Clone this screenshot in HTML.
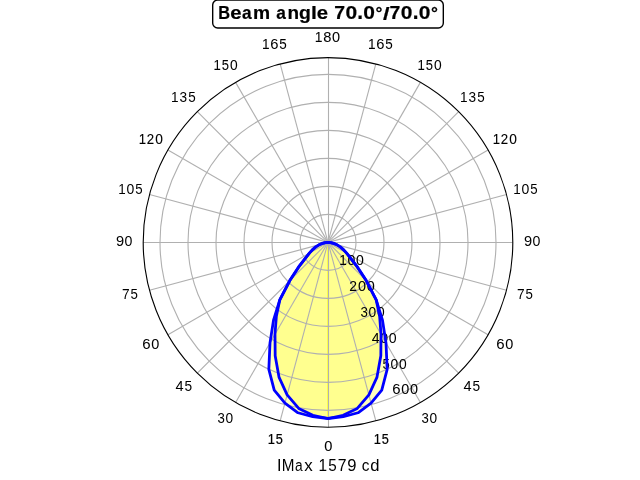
<!DOCTYPE html>
<html><head><meta charset="utf-8"><style>
html,body{margin:0;padding:0;background:#fff;width:640px;height:480px;overflow:hidden}
svg{display:block;will-change:transform}
text{font-family:"Liberation Sans",sans-serif}
</style></head><body>
<svg width="640" height="480" viewBox="0 0 640 480">
<rect x="0" y="0" width="640" height="480" fill="#fff"/>
<path d="M328.000 418.500 L343.252 416.734 L358.041 412.772 L371.042 403.033 L381.766 390.120 L387.167 369.283 L386.000 342.859 L382.490 320.219 L376.209 299.853 L366.184 280.584 L357.493 267.147 L350.527 258.173 L346.620 253.150 L343.407 249.585 L340.216 246.846 L336.983 244.807 L333.515 243.372 L330.590 242.627 L328.000 242.400 L328.000 242.400 L328.000 418.500 Z" fill="#ff0" fill-opacity="0.25" stroke="#ff0" stroke-opacity="0.25" stroke-width="1.389" stroke-linejoin="round"/>
<path d="M328.000 418.500 L312.748 416.734 L297.959 412.772 L284.958 403.033 L274.234 390.120 L268.833 369.283 L270.000 342.859 L273.510 320.219 L279.791 299.853 L289.816 280.584 L298.507 267.147 L305.473 258.173 L309.380 253.150 L312.593 249.585 L315.784 246.846 L319.017 244.807 L322.485 243.372 L325.410 242.627 L328.000 242.400 L328.000 242.400 L328.000 418.500 Z" fill="#ff0" fill-opacity="0.25" stroke="#ff0" stroke-opacity="0.25" stroke-width="1.389" stroke-linejoin="round"/>
<path d="M328.000 418.500 L343.122 415.240 L357.277 408.439 L368.868 394.920 L377.011 377.058 L380.827 355.688 L381.000 334.199 L379.622 316.124 L376.209 299.853 L366.184 280.584 L357.493 267.147 L350.527 258.173 L346.620 253.150 L343.407 249.585 L340.216 246.846 L336.983 244.807 L333.515 243.372 L330.590 242.627 L328.000 242.400 L328.000 242.400 L328.000 418.500 Z" fill="#ff0" fill-opacity="0.25" stroke="#ff0" stroke-opacity="0.25" stroke-width="1.389" stroke-linejoin="round"/>
<path d="M328.000 418.500 L312.878 415.240 L298.723 408.439 L287.132 394.920 L278.989 377.058 L275.173 355.688 L275.000 334.199 L276.378 316.124 L279.791 299.853 L289.816 280.584 L298.507 267.147 L305.473 258.173 L309.380 253.150 L312.593 249.585 L315.784 246.846 L319.017 244.807 L322.485 243.372 L325.410 242.627 L328.000 242.400 L328.000 242.400 L328.000 418.500 Z" fill="#ff0" fill-opacity="0.25" stroke="#ff0" stroke-opacity="0.25" stroke-width="1.389" stroke-linejoin="round"/>
<circle cx="328.000" cy="242.400" r="28.000" fill="none" stroke="#b0b0b0" stroke-width="1.111"/>
<circle cx="328.000" cy="242.400" r="56.000" fill="none" stroke="#b0b0b0" stroke-width="1.111"/>
<circle cx="328.000" cy="242.400" r="84.000" fill="none" stroke="#b0b0b0" stroke-width="1.111"/>
<circle cx="328.000" cy="242.400" r="112.000" fill="none" stroke="#b0b0b0" stroke-width="1.111"/>
<circle cx="328.000" cy="242.400" r="140.000" fill="none" stroke="#b0b0b0" stroke-width="1.111"/>
<circle cx="328.000" cy="242.400" r="168.000" fill="none" stroke="#b0b0b0" stroke-width="1.111"/>
<line x1="328.500" y1="242.400" x2="328.500" y2="427.200" stroke="#b0b0b0" stroke-width="1.111" stroke-linecap="butt"/>
<line x1="328.000" y1="242.400" x2="375.830" y2="420.903" stroke="#b0b0b0" stroke-width="1.111" stroke-linecap="butt"/>
<line x1="328.000" y1="242.400" x2="420.400" y2="402.441" stroke="#b0b0b0" stroke-width="1.111" stroke-linecap="butt"/>
<line x1="328.000" y1="242.400" x2="458.673" y2="373.073" stroke="#b0b0b0" stroke-width="1.111" stroke-linecap="butt"/>
<line x1="328.000" y1="242.400" x2="488.041" y2="334.800" stroke="#b0b0b0" stroke-width="1.111" stroke-linecap="butt"/>
<line x1="328.000" y1="242.400" x2="506.503" y2="290.230" stroke="#b0b0b0" stroke-width="1.111" stroke-linecap="butt"/>
<line x1="328.000" y1="242.500" x2="512.800" y2="242.500" stroke="#b0b0b0" stroke-width="1.111" stroke-linecap="butt"/>
<line x1="328.000" y1="242.400" x2="506.503" y2="194.570" stroke="#b0b0b0" stroke-width="1.111" stroke-linecap="butt"/>
<line x1="328.000" y1="242.400" x2="488.041" y2="150.000" stroke="#b0b0b0" stroke-width="1.111" stroke-linecap="butt"/>
<line x1="328.000" y1="242.400" x2="458.673" y2="111.727" stroke="#b0b0b0" stroke-width="1.111" stroke-linecap="butt"/>
<line x1="328.000" y1="242.400" x2="420.400" y2="82.359" stroke="#b0b0b0" stroke-width="1.111" stroke-linecap="butt"/>
<line x1="328.000" y1="242.400" x2="375.830" y2="63.897" stroke="#b0b0b0" stroke-width="1.111" stroke-linecap="butt"/>
<line x1="328.500" y1="242.400" x2="328.500" y2="57.600" stroke="#b0b0b0" stroke-width="1.111" stroke-linecap="butt"/>
<line x1="328.000" y1="242.400" x2="280.170" y2="63.897" stroke="#b0b0b0" stroke-width="1.111" stroke-linecap="butt"/>
<line x1="328.000" y1="242.400" x2="235.600" y2="82.359" stroke="#b0b0b0" stroke-width="1.111" stroke-linecap="butt"/>
<line x1="328.000" y1="242.400" x2="197.327" y2="111.727" stroke="#b0b0b0" stroke-width="1.111" stroke-linecap="butt"/>
<line x1="328.000" y1="242.400" x2="167.959" y2="150.000" stroke="#b0b0b0" stroke-width="1.111" stroke-linecap="butt"/>
<line x1="328.000" y1="242.400" x2="149.497" y2="194.570" stroke="#b0b0b0" stroke-width="1.111" stroke-linecap="butt"/>
<line x1="328.000" y1="242.500" x2="143.200" y2="242.500" stroke="#b0b0b0" stroke-width="1.111" stroke-linecap="butt"/>
<line x1="328.000" y1="242.400" x2="149.497" y2="290.230" stroke="#b0b0b0" stroke-width="1.111" stroke-linecap="butt"/>
<line x1="328.000" y1="242.400" x2="167.959" y2="334.800" stroke="#b0b0b0" stroke-width="1.111" stroke-linecap="butt"/>
<line x1="328.000" y1="242.400" x2="197.327" y2="373.073" stroke="#b0b0b0" stroke-width="1.111" stroke-linecap="butt"/>
<line x1="328.000" y1="242.400" x2="235.600" y2="402.441" stroke="#b0b0b0" stroke-width="1.111" stroke-linecap="butt"/>
<line x1="328.000" y1="242.400" x2="280.170" y2="420.903" stroke="#b0b0b0" stroke-width="1.111" stroke-linecap="butt"/>
<g font-weight="normal" fill="#000" stroke="#000" stroke-width="0.075"><text transform="matrix(1.0543 0 0 1.0896 324.178 451.053)" font-size="13.889">0</text></g>
<g font-weight="normal" fill="#000" stroke="#000" stroke-width="0.225"><text transform="matrix(0.9255 0 0 1.0596 373.657 444.000)" font-size="13.889">1</text><text transform="matrix(0.9145 0 0 1.0651 381.833 444.052)" font-size="13.889">5</text></g>
<g font-weight="normal" fill="#000"><text transform="matrix(0.9483 0 0 1.1055 421.398 423.054)" font-size="13.889">3</text><text transform="matrix(0.9874 0 0 1.1055 429.508 423.054)" font-size="13.889">0</text></g>
<g font-weight="normal" fill="#000"><text transform="matrix(1.0475 0 0 1.0651 463.576 391.000)" font-size="13.889">4</text><text transform="matrix(0.9885 0 0 1.0706 472.531 391.052)" font-size="13.889">5</text></g>
<g font-weight="normal" fill="#000" stroke="#000" stroke-width="0.039"><text transform="matrix(1.0787 0 0 1.0627 496.308 349.052)" font-size="13.889">6</text><text transform="matrix(1.0423 0 0 1.0627 505.186 349.052)" font-size="13.889">0</text></g>
<g font-weight="normal" fill="#000"><text transform="matrix(0.9894 0 0 1.0490 516.945 299.000)" font-size="13.889">7</text><text transform="matrix(0.9546 0 0 1.0544 525.533 299.052)" font-size="13.889">5</text></g>
<g font-weight="normal" fill="#000"><text transform="matrix(1.0542 0 0 1.1003 523.878 246.053)" font-size="13.889">9</text><text transform="matrix(1.0207 0 0 1.1003 532.606 246.053)" font-size="13.889">0</text></g>
<g font-weight="normal" fill="#000"><text transform="matrix(0.9644 0 0 1.0596 513.225 194.000)" font-size="13.889">1</text><text transform="matrix(1.0098 0 0 1.0683 521.577 194.052)" font-size="13.889">0</text><text transform="matrix(0.9530 0 0 1.0651 530.209 194.052)" font-size="13.889">5</text></g>
<g font-weight="normal" fill="#000" stroke="#000" stroke-width="0.114"><text transform="matrix(0.9440 0 0 1.0329 492.721 144.000)" font-size="13.889">1</text><text transform="matrix(0.9527 0 0 1.0362 500.863 144.000)" font-size="13.889">2</text><text transform="matrix(0.9884 0 0 1.0414 509.182 144.050)" font-size="13.889">0</text></g>
<g font-weight="normal" fill="#000"><text transform="matrix(0.9789 0 0 1.0757 459.909 102.000)" font-size="13.889">1</text><text transform="matrix(0.9843 0 0 1.0845 468.561 102.053)" font-size="13.889">3</text><text transform="matrix(0.9672 0 0 1.0813 477.148 102.053)" font-size="13.889">5</text></g>
<g font-weight="normal" fill="#000" stroke="#000" stroke-width="0.039"><text transform="matrix(0.9488 0 0 1.0702 417.409 70.000)" font-size="13.889">1</text><text transform="matrix(0.9375 0 0 1.0757 425.790 70.053)" font-size="13.889">5</text><text transform="matrix(0.9934 0 0 1.0790 433.953 70.052)" font-size="13.889">0</text></g>
<g font-weight="normal" fill="#000" stroke="#000" stroke-width="0.036"><text transform="matrix(0.9808 0 0 1.0388 367.885 49.000)" font-size="13.889">1</text><text transform="matrix(1.0628 0 0 1.0473 376.239 49.051)" font-size="13.889">6</text><text transform="matrix(0.9691 0 0 1.0442 385.157 49.051)" font-size="13.889">5</text></g>
<g font-weight="normal" fill="#000" stroke="#000" stroke-width="0.039"><text transform="matrix(0.9994 0 0 1.1071 314.630 42.000)" font-size="13.889">1</text><text transform="matrix(1.0577 0 0 1.1161 323.242 42.054)" font-size="13.889">8</text><text transform="matrix(1.0464 0 0 1.1161 332.057 42.054)" font-size="13.889">0</text></g>
<g font-weight="normal" fill="#000" stroke="#000" stroke-width="0.036"><text transform="matrix(0.9808 0 0 1.0388 261.885 49.000)" font-size="13.889">1</text><text transform="matrix(1.0628 0 0 1.0473 270.239 49.051)" font-size="13.889">6</text><text transform="matrix(0.9691 0 0 1.0442 279.157 49.051)" font-size="13.889">5</text></g>
<g font-weight="normal" fill="#000" stroke="#000" stroke-width="0.039"><text transform="matrix(0.9488 0 0 1.0702 213.409 70.000)" font-size="13.889">1</text><text transform="matrix(0.9375 0 0 1.0757 221.790 70.053)" font-size="13.889">5</text><text transform="matrix(0.9934 0 0 1.0790 229.953 70.052)" font-size="13.889">0</text></g>
<g font-weight="normal" fill="#000"><text transform="matrix(0.9789 0 0 1.0757 170.909 102.000)" font-size="13.889">1</text><text transform="matrix(0.9843 0 0 1.0845 179.561 102.053)" font-size="13.889">3</text><text transform="matrix(0.9672 0 0 1.0813 188.148 102.053)" font-size="13.889">5</text></g>
<g font-weight="normal" fill="#000" stroke="#000" stroke-width="0.114"><text transform="matrix(0.9440 0 0 1.0329 138.721 144.000)" font-size="13.889">1</text><text transform="matrix(0.9527 0 0 1.0362 146.863 144.000)" font-size="13.889">2</text><text transform="matrix(0.9884 0 0 1.0414 155.182 144.050)" font-size="13.889">0</text></g>
<g font-weight="normal" fill="#000"><text transform="matrix(0.9644 0 0 1.0596 118.225 194.000)" font-size="13.889">1</text><text transform="matrix(1.0098 0 0 1.0683 126.577 194.052)" font-size="13.889">0</text><text transform="matrix(0.9530 0 0 1.0651 135.209 194.052)" font-size="13.889">5</text></g>
<g font-weight="normal" fill="#000"><text transform="matrix(1.0542 0 0 1.1003 115.878 246.053)" font-size="13.889">9</text><text transform="matrix(1.0207 0 0 1.1003 124.606 246.053)" font-size="13.889">0</text></g>
<g font-weight="normal" fill="#000"><text transform="matrix(0.9894 0 0 1.0490 121.945 299.000)" font-size="13.889">7</text><text transform="matrix(0.9546 0 0 1.0544 130.533 299.052)" font-size="13.889">5</text></g>
<g font-weight="normal" fill="#000" stroke="#000" stroke-width="0.039"><text transform="matrix(1.0787 0 0 1.0627 142.308 349.052)" font-size="13.889">6</text><text transform="matrix(1.0423 0 0 1.0627 151.186 349.052)" font-size="13.889">0</text></g>
<g font-weight="normal" fill="#000"><text transform="matrix(1.0475 0 0 1.0651 175.576 391.000)" font-size="13.889">4</text><text transform="matrix(0.9885 0 0 1.0706 184.531 391.052)" font-size="13.889">5</text></g>
<g font-weight="normal" fill="#000"><text transform="matrix(0.9483 0 0 1.1055 217.398 423.054)" font-size="13.889">3</text><text transform="matrix(0.9874 0 0 1.1055 225.508 423.054)" font-size="13.889">0</text></g>
<g font-weight="normal" fill="#000" stroke="#000" stroke-width="0.225"><text transform="matrix(0.9255 0 0 1.0596 267.657 444.000)" font-size="13.889">1</text><text transform="matrix(0.9145 0 0 1.0651 275.833 444.052)" font-size="13.889">5</text></g>
<g font-weight="normal" fill="#000" stroke="#000" stroke-width="0.039"><text transform="matrix(0.9693 0 0 1.0600 339.142 265.000)" font-size="13.889">1</text><text transform="matrix(1.0148 0 0 1.0687 347.537 265.052)" font-size="13.889">0</text><text transform="matrix(1.0148 0 0 1.0687 356.044 265.052)" font-size="13.889">0</text></g>
<g font-weight="normal" fill="#000" stroke="#000" stroke-width="0.039"><text transform="matrix(1.0028 0 0 1.0893 349.175 291.000)" font-size="13.889">2</text><text transform="matrix(1.0404 0 0 1.0948 357.932 291.053)" font-size="13.889">0</text><text transform="matrix(1.0404 0 0 1.0948 366.653 291.053)" font-size="13.889">0</text></g>
<g font-weight="normal" fill="#000"><text transform="matrix(0.9556 0 0 1.0520 360.417 317.051)" font-size="13.889">3</text><text transform="matrix(0.9951 0 0 1.0520 368.590 317.051)" font-size="13.889">0</text><text transform="matrix(0.9951 0 0 1.0520 376.931 317.051)" font-size="13.889">0</text></g>
<g font-weight="normal" fill="#000"><text transform="matrix(1.0158 0 0 1.1071 371.676 343.000)" font-size="13.889">4</text><text transform="matrix(1.0157 0 0 1.1161 380.192 343.054)" font-size="13.889">0</text><text transform="matrix(1.0157 0 0 1.1161 388.706 343.054)" font-size="13.889">0</text></g>
<g font-weight="normal" fill="#000"><text transform="matrix(0.9400 0 0 1.1021 382.395 369.054)" font-size="13.889">5</text><text transform="matrix(0.9960 0 0 1.1055 390.579 369.054)" font-size="13.889">0</text><text transform="matrix(0.9960 0 0 1.1055 398.929 369.054)" font-size="13.889">0</text></g>
<g font-weight="normal" fill="#000" stroke="#000" stroke-width="0.039"><text transform="matrix(1.0747 0 0 1.0896 392.367 394.053)" font-size="13.889">6</text><text transform="matrix(1.0384 0 0 1.0896 401.213 394.053)" font-size="13.889">0</text><text transform="matrix(1.0384 0 0 1.0896 409.917 394.053)" font-size="13.889">0</text></g>
<circle cx="328.000" cy="242.400" r="184.800" fill="none" stroke="#000" stroke-width="1.111"/>
<path d="M328.000 242.400 L325.410 242.627 L322.485 243.372 L319.017 244.807 L315.784 246.846 L312.593 249.585 L309.380 253.150 L305.473 258.173 L298.507 267.147 L289.816 280.584 L279.791 299.853 L273.510 320.219 L270.000 342.859 L268.833 369.283 L274.234 390.120 L284.958 403.033 L297.959 412.772 L312.748 416.734 L328.000 418.500 L343.252 416.734 L358.041 412.772 L371.042 403.033 L381.766 390.120 L387.167 369.283 L386.000 342.859 L382.490 320.219 L376.209 299.853 L366.184 280.584 L357.493 267.147 L350.527 258.173 L346.620 253.150 L343.407 249.585 L340.216 246.846 L336.983 244.807 L333.515 243.372 L330.590 242.627 L328.000 242.400" fill="none" stroke="#00f" stroke-width="2.778" stroke-linejoin="round" stroke-linecap="square"/>
<path d="M328.000 242.400 L325.410 242.627 L322.485 243.372 L319.017 244.807 L315.784 246.846 L312.593 249.585 L309.380 253.150 L305.473 258.173 L298.507 267.147 L289.816 280.584 L279.791 299.853 L276.378 316.124 L275.000 334.199 L275.173 355.688 L278.989 377.058 L287.132 394.920 L298.723 408.439 L312.878 415.240 L328.000 418.500 L343.122 415.240 L357.277 408.439 L368.868 394.920 L377.011 377.058 L380.827 355.688 L381.000 334.199 L379.622 316.124 L376.209 299.853 L366.184 280.584 L357.493 267.147 L350.527 258.173 L346.620 253.150 L343.407 249.585 L340.216 246.846 L336.983 244.807 L333.515 243.372 L330.590 242.627 L328.000 242.400" fill="none" stroke="#00f" stroke-width="2.778" stroke-linejoin="round" stroke-linecap="square"/>
<rect x="212.688" y="0.017" width="230.625" height="28.000" rx="5" ry="5" fill="#fff" stroke="#000" stroke-width="1.389"/>
<g font-weight="bold" fill="#000" stroke="#000" stroke-width="0.186"><text transform="matrix(0.9827 0 0 1.1020 218.154 19.000)" font-size="16.667">B</text><text transform="matrix(1.2138 0 0 1.0901 230.334 19.068)" font-size="16.667">e</text><text transform="matrix(1.0362 0 0 1.0901 241.907 19.068)" font-size="16.667">a</text><text transform="matrix(1.1543 0 0 1.0815 253.043 19.000)" font-size="16.667">m</text><text transform="matrix(1.0362 0 0 1.0901 276.278 19.068)" font-size="16.667">a</text><text transform="matrix(1.1370 0 0 1.0815 287.449 19.000)" font-size="16.667">n</text><text transform="matrix(1.1654 0 0 1.0738 299.101 18.948)" font-size="16.667">g</text><text transform="matrix(1.2723 0 0 1.0905 310.982 19.000)" font-size="16.667">l</text><text transform="matrix(1.2138 0 0 1.0901 316.695 19.068)" font-size="16.667">e</text><text transform="matrix(1.1691 0 0 1.1020 334.130 19.000)" font-size="16.667">7</text><text transform="matrix(1.2601 0 0 1.1110 345.401 19.065)" font-size="16.667">0</text><text transform="matrix(1.2440 0 0 1.3196 357.308 19.000)" font-size="16.667">.</text><text transform="matrix(1.2601 0 0 1.1110 363.306 19.065)" font-size="16.667">0</text><text transform="matrix(1.0376 0 0 1.0994 375.608 18.767)" font-size="16.667">°</text><text transform="matrix(1.4121 0 0 1.1478 383.014 20.225)" font-size="16.667">/</text><text transform="matrix(1.1691 0 0 1.1020 389.599 19.000)" font-size="16.667">7</text><text transform="matrix(1.2601 0 0 1.1110 400.870 19.065)" font-size="16.667">0</text><text transform="matrix(1.2440 0 0 1.3196 412.777 19.000)" font-size="16.667">.</text><text transform="matrix(1.2601 0 0 1.1110 418.775 19.065)" font-size="16.667">0</text><text transform="matrix(1.0376 0 0 1.0994 431.077 18.767)" font-size="16.667">°</text></g>
<g font-weight="normal" fill="#000"><text transform="matrix(1.0586 0 0 1.0757 276.892 471.000)" font-size="15.278">I</text><text transform="matrix(0.9980 0 0 1.0757 281.644 471.000)" font-size="15.278">M</text><text transform="matrix(0.9001 0 0 1.0641 294.923 471.061)" font-size="15.278">a</text><text transform="matrix(1.1103 0 0 1.0509 304.209 471.000)" font-size="15.278">x</text><text transform="matrix(1.0077 0 0 1.0757 318.378 471.000)" font-size="15.278">1</text><text transform="matrix(0.9958 0 0 1.0813 328.170 471.058)" font-size="15.278">5</text><text transform="matrix(1.0321 0 0 1.0757 337.775 471.000)" font-size="15.278">7</text><text transform="matrix(1.0898 0 0 1.0845 347.241 471.058)" font-size="15.278">9</text><text transform="matrix(1.0043 0 0 1.0641 361.841 471.061)" font-size="15.278">c</text><text transform="matrix(1.0879 0 0 1.0699 370.203 471.060)" font-size="15.278">d</text></g>
</svg>
</body></html>
